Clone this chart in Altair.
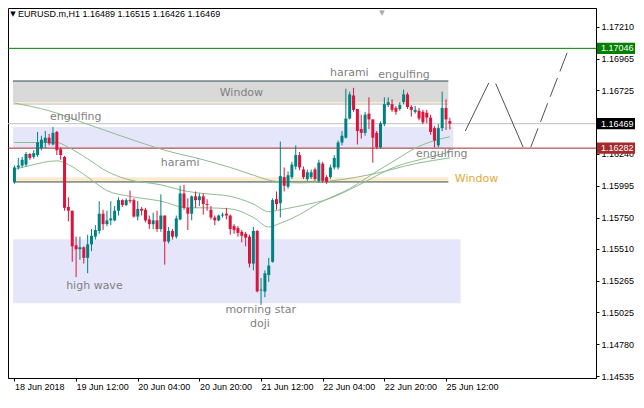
import altair as alt
import pandas as pd

# ---------------- data ----------------
opens = [1.16023, 1.16134, 1.16149, 1.16156, 1.16237, 1.16215, 1.16229, 1.16281, 1.16325, 1.16362,
         1.16310, 1.16406, 1.16274, 1.16215, 1.15832, 1.15803, 1.15538, 1.15508, 1.15523, 1.15442,
         1.15545, 1.15604, 1.15648, 1.15780, 1.15700, 1.15729, 1.15729, 1.15803, 1.15884, 1.15847,
         1.15884, 1.15884, 1.15758, 1.15817, 1.15810, 1.15736, 1.15700, 1.15729, 1.15663, 1.15766,
         1.15567, 1.15648, 1.15604, 1.15736, 1.15935, 1.15825, 1.15780, 1.15913, 1.15884, 1.15913,
         1.15854, 1.15810, 1.15751, 1.15729, 1.15766, 1.15780, 1.15766, 1.15685, 1.15670, 1.15641,
         1.15626, 1.15604, 1.15398, 1.15648, 1.15192, 1.15185, 1.15310, 1.15412, 1.15891, 1.15861,
         1.16060, 1.15987, 1.16060, 1.16141, 1.16229, 1.16119, 1.16046, 1.16060, 1.16119, 1.16031,
         1.16163, 1.16060, 1.16060, 1.16134, 1.16134, 1.16325, 1.16362, 1.16509, 1.16685, 1.16582,
         1.16428, 1.16399, 1.16546, 1.16502, 1.16399, 1.16288, 1.16465, 1.16612, 1.16619, 1.16590,
         1.16582, 1.16634, 1.16693, 1.16597, 1.16560, 1.16568, 1.16560, 1.16553, 1.16516, 1.16435,
         1.16303, 1.16435, 1.16590, 1.16489]
highs = [1.16149, 1.16207, 1.16215, 1.16252, 1.16244, 1.16266, 1.16406, 1.16377, 1.16413, 1.16391,
         1.16443, 1.16413, 1.16288, 1.16222, 1.15906, 1.15803, 1.15604, 1.15604, 1.15530, 1.15619,
         1.15663, 1.15692, 1.15876, 1.15810, 1.15803, 1.15876, 1.15839, 1.15906, 1.15891, 1.15898,
         1.15957, 1.15898, 1.15876, 1.15832, 1.15825, 1.15766, 1.15788, 1.15803, 1.15928, 1.15766,
         1.15678, 1.15663, 1.15766, 1.15994, 1.16001, 1.15898, 1.15920, 1.15950, 1.15935, 1.15935,
         1.15891, 1.15839, 1.15766, 1.15773, 1.15788, 1.15825, 1.15773, 1.15700, 1.15685, 1.15655,
         1.15641, 1.15619, 1.15678, 1.15655, 1.15287, 1.15346, 1.15442, 1.15898, 1.15950, 1.16332,
         1.16134, 1.16104, 1.16178, 1.16303, 1.16252, 1.16141, 1.16119, 1.16119, 1.16134, 1.16193,
         1.16178, 1.16075, 1.16156, 1.16229, 1.16340, 1.16413, 1.16737, 1.16715, 1.16744, 1.16582,
         1.16538, 1.16560, 1.16671, 1.16502, 1.16413, 1.16487, 1.16671, 1.16671, 1.16656, 1.16605,
         1.16634, 1.16730, 1.16708, 1.16612, 1.16605, 1.16590, 1.16575, 1.16575, 1.16538, 1.16450,
         1.16465, 1.16715, 1.16656, 1.16515]
lows = [1.16009, 1.16119, 1.16134, 1.16141, 1.16193, 1.16200, 1.16215, 1.16266, 1.16281, 1.16303,
        1.16303, 1.16229, 1.16193, 1.15803, 1.15722, 1.15412, 1.15295, 1.15427, 1.15398, 1.15324,
        1.15493, 1.15582, 1.15626, 1.15655, 1.15685, 1.15692, 1.15722, 1.15766, 1.15832, 1.15839,
        1.15861, 1.15751, 1.15729, 1.15766, 1.15714, 1.15663, 1.15663, 1.15641, 1.15641, 1.15390,
        1.15552, 1.15582, 1.15589, 1.15729, 1.15810, 1.15655, 1.15729, 1.15825, 1.15839, 1.15773,
        1.15803, 1.15736, 1.15692, 1.15722, 1.15751, 1.15736, 1.15619, 1.15626, 1.15604, 1.15560,
        1.15530, 1.15368, 1.15346, 1.15177, 1.15082, 1.15140, 1.15258, 1.15405, 1.15810, 1.15751,
        1.15950, 1.15972, 1.16046, 1.16119, 1.16112, 1.16046, 1.16031, 1.16046, 1.16031, 1.16016,
        1.16016, 1.16009, 1.16046, 1.16119, 1.16119, 1.16303, 1.16355, 1.16502, 1.16560, 1.16310,
        1.16355, 1.16377, 1.16428, 1.16171, 1.16274, 1.16281, 1.16450, 1.16597, 1.16560, 1.16538,
        1.16568, 1.16619, 1.16582, 1.16524, 1.16546, 1.16494, 1.16465, 1.16472, 1.16384, 1.16288,
        1.16288, 1.16413, 1.16421, 1.16426]
closes = [1.16134, 1.16149, 1.16193, 1.16237, 1.16207, 1.16244, 1.16325, 1.16347, 1.16362, 1.16318,
          1.16399, 1.16266, 1.16229, 1.15825, 1.15803, 1.15530, 1.15508, 1.15523, 1.15442, 1.15545,
          1.15611, 1.15655, 1.15780, 1.15700, 1.15729, 1.15744, 1.15803, 1.15884, 1.15847, 1.15884,
          1.15876, 1.15758, 1.15817, 1.15803, 1.15729, 1.15700, 1.15729, 1.15663, 1.15766, 1.15567,
          1.15648, 1.15604, 1.15744, 1.15935, 1.15825, 1.15780, 1.15913, 1.15884, 1.15913, 1.15854,
          1.15847, 1.15751, 1.15729, 1.15766, 1.15773, 1.15766, 1.15663, 1.15655, 1.15633, 1.15611,
          1.15596, 1.15398, 1.15648, 1.15185, 1.15199, 1.15324, 1.15383, 1.15884, 1.15854, 1.16068,
          1.15994, 1.16075, 1.16156, 1.16229, 1.16134, 1.16060, 1.16097, 1.16097, 1.16046, 1.16171,
          1.16031, 1.16023, 1.16134, 1.16207, 1.16325, 1.16377, 1.16509, 1.16693, 1.16575, 1.16413,
          1.16399, 1.16538, 1.16502, 1.16362, 1.16288, 1.16472, 1.16619, 1.16634, 1.16575, 1.16560,
          1.16612, 1.16693, 1.16597, 1.16575, 1.16575, 1.16509, 1.16479, 1.16516, 1.16406, 1.16340,
          1.16435, 1.16590, 1.16502, 1.16469]

ma_fast_bars = [0, 4, 11, 14, 19, 24, 30, 38, 45, 49, 56, 62, 66, 69, 74, 79, 87, 94, 99, 104, 109, 113]
ma_fast = [1.16119, 1.16149, 1.16185, 1.16156, 1.16060, 1.15957, 1.15913, 1.15876, 1.15825, 1.15825,
           1.15817, 1.15751, 1.15678, 1.15707, 1.15773, 1.15861, 1.15972, 1.16104, 1.16193, 1.16281,
           1.16340, 1.16369]
ma_mid_bars = [0, 11, 14, 19, 24, 29, 38, 45, 49, 56, 62, 66, 69, 74, 82, 89, 99, 107, 113]
ma_mid = [1.16325, 1.16325, 1.16288, 1.16200, 1.16104, 1.16046, 1.16001, 1.15950, 1.15935, 1.15913,
          1.15854, 1.15795, 1.15810, 1.15839, 1.15898, 1.15994, 1.16141, 1.16207, 1.16252]
ma_slow_bars = [0, 9, 19, 29, 39, 49, 56, 62, 67, 74, 84, 94, 104, 113]
ma_slow = [1.16627, 1.16568, 1.16465, 1.16362, 1.16266, 1.16193, 1.16134, 1.16075, 1.16031, 1.16016,
           1.16038, 1.16090, 1.16163, 1.16207]

x_label_bars = [0, 16, 32, 48, 64, 80, 96, 112]
x_labels = ["18 Jun 2018", "19 Jun 12:00", "20 Jun 04:00", "20 Jun 20:00",
            "21 Jun 12:00", "22 Jun 04:00", "22 Jun 20:00", "25 Jun 12:00"]
y_ticks = [1.17210, 1.16965, 1.16725, 1.16480, 1.16240, 1.15995, 1.15750,
           1.15510, 1.15265, 1.15025, 1.14780, 1.14535]

# zones (rectangles): right end bar, low price, high price, colour
zone_end = [113.9, 115.8, 112.6, 112.6, 112.6]
zone_low = [1.16282, 1.15094, 1.16612, 1.16625, 1.16023]
zone_high = [1.16443, 1.15584, 1.16796, 1.16636, 1.16060]
zone_color = ["#E6E6FA", "#E6E6FA", "#D9D9D9", "#FDEBD0", "#FDEBD0"]

level_prices = [1.17046, 1.16469, 1.16282]
level_texts = ["1.17046", "1.16469", "1.16282"]
level_colors = ["#008000", "#000000", "#A52A2A"]

window_lines = [1.16796, 1.16023]
window_end = 112.6

proj_bars = [117.0, 123.1, 124.9, 132.0, 134.0, 144.1]
proj_prices = [1.16413, 1.16781, 1.16776, 1.16290, 1.16290, 1.17063]
proj_seg = ["a", "a", "b", "b", "c", "c"]

ann_text = ["Window", "engulfing", "harami", "harami", "engulfing", "engulfing",
            "Window", "high wave", "morning star", "doji"]
ann_bar = [58.9, 15.9, 43.0, 86.9, 101.1, 110.9, 119.9, 20.75, 63.9, 63.7]
ann_price = [1.16708, 1.16524, 1.16171, 1.16859, 1.16840, 1.16237, 1.16046, 1.15228, 1.15045, 1.14935]
ann_color = ["#7f7f7f"] * 6 + ["#E8A838"] + ["#7f7f7f"] * 3

title_text = "EURUSD.m,H1  1.16489 1.16515 1.16426 1.16469"

X_MIN, X_MAX = -0.375, 149.625
Y_MIN, Y_MAX = 1.14522, 1.17355
W, H = 588, 370

# ---------------- tables ----------------
candles = pd.DataFrame({"bar": list(range(len(opens))), "open": opens, "high": highs,
                        "low": lows, "close": closes})
candles["dir"] = ["up" if c >= o else "down" for o, c in zip(opens, closes)]

ma = pd.DataFrame({
    "bar": ma_fast_bars + ma_mid_bars + ma_slow_bars,
    "p": ma_fast + ma_mid + ma_slow,
    "line": ["fast"] * len(ma_fast) + ["mid"] * len(ma_mid) + ["slow"] * len(ma_slow),
})
zones = pd.DataFrame({"x0": [X_MIN] * len(zone_end), "x1": zone_end, "lo": zone_low,
                      "hi": zone_high, "color": zone_color, "order": list(range(len(zone_end)))})
levels = pd.DataFrame({"p": level_prices, "t": level_texts, "color": level_colors})
wlines = pd.DataFrame({"x0": [X_MIN] * len(window_lines), "x1": [window_end] * len(window_lines),
                       "p": window_lines})
proj = pd.DataFrame({"bar": proj_bars, "p": proj_prices, "seg": proj_seg})
ann = pd.DataFrame({"t": ann_text, "bar": ann_bar, "p": ann_price, "color": ann_color})

label_expr = ("[" + ",".join(repr(s) for s in x_labels) + "][indexof(["
              + ",".join(str(v) for v in x_label_bars) + "], datum.value)]")

xs = alt.Scale(domain=[X_MIN, X_MAX], nice=False, zero=False)
ys = alt.Scale(domain=[Y_MIN, Y_MAX], nice=False, zero=False)

x_axis = alt.Axis(values=x_label_bars, labelExpr=label_expr, labelAlign="left", labelPadding=1,
                  tickSize=3, tickColor="black", domainColor="black", labelColor="black",
                  labelFont="Liberation Sans", labelFontSize=9, labelFlush=False,
                  labelOverlap=False, labelBound=False, grid=False, title=None)
y_axis = alt.Axis(orient="right", values=y_ticks, format=".5f", labelAlign="left",
                  labelBaseline="middle", labelPadding=2, tickSize=3, tickColor="black",
                  domainColor="black", labelColor="black", labelFont="Liberation Sans",
                  labelFontSize=9, labelOverlap=False, labelFlush=False, grid=False, title=None)


def X(field):
    return alt.X(field + ":Q", scale=xs, axis=x_axis)


def Y(field):
    return alt.Y(field + ":Q", scale=ys, axis=y_axis)


color_scale = alt.Scale(domain=["up", "down"], range=["#008080", "#DC143C"])

zone_layer = alt.Chart(zones).mark_rect().encode(
    x=X("x0"), x2="x1", y=Y("lo"), y2="hi", color=alt.Color("color:N", scale=None),
    order="order:Q")

gray_line = alt.Chart(levels).transform_filter("datum.t == '1.16469'").mark_rule(
    strokeWidth=1, color="#C0C0C0").encode(y=Y("p"))
other_lines = alt.Chart(levels).transform_filter("datum.t != '1.16469'").mark_rule(
    strokeWidth=1).encode(y=Y("p"), color=alt.Color("color:N", scale=None))

win_lines = alt.Chart(wlines).mark_rule(strokeWidth=1, color="#2F4F4F").encode(
    x=X("x0"), x2="x1", y=Y("p"))

ma_layer = alt.Chart(ma).mark_line(strokeWidth=1, color="#8FBC8F", interpolate="monotone").encode(
    x=X("bar"), y=Y("p"), detail="line:N")

wicks = alt.Chart(candles).mark_rule(strokeWidth=1).encode(
    x=X("bar"), y=Y("low"), y2="high",
    color=alt.Color("dir:N", scale=color_scale, legend=None))
bodies = alt.Chart(candles).mark_bar(size=3).encode(
    x=X("bar"), y=Y("open"), y2="close",
    color=alt.Color("dir:N", scale=color_scale, legend=None))

proj_solid = alt.Chart(proj).transform_filter("datum.seg != 'c'").mark_line(
    strokeWidth=1, color="#505050").encode(x=X("bar"), y=Y("p"), detail="seg:N")
proj_dash = alt.Chart(proj).transform_filter("datum.seg == 'c'").mark_line(
    strokeWidth=1, color="#505050", strokeDash=[20, 7]).encode(x=X("bar"), y=Y("p"))

ann_layer = alt.Chart(ann).mark_text(font="DejaVu Sans", fontSize=11, align="center",
                                      baseline="middle").encode(
    x=X("bar"), y=Y("p"), text="t:N", color=alt.Color("color:N", scale=None))

boxes = alt.Chart(levels).transform_calculate(
    lo="datum.p - 0.00043", hi="datum.p + 0.00043").mark_rect().encode(
    x=alt.value(W + 1), x2=alt.value(W + 39), y=Y("lo"), y2="hi",
    color=alt.Color("color:N", scale=None))
box_text = alt.Chart(levels).mark_text(font="Liberation Sans", fontSize=9, align="left",
                                       baseline="middle", color="white").encode(
    x=alt.value(W + 5), y=Y("p"), text="t:N")

title_df = pd.DataFrame({"t": [title_text]})
title_layer = alt.Chart(title_df).mark_text(font="Liberation Sans", fontSize=9, align="left",
                                            baseline="middle", color="black").encode(
    x=alt.value(10), y=alt.value(6), text="t:N")
tri_layer = alt.Chart(pd.DataFrame({"t": ["\u25BC"]})).mark_text(
    font="DejaVu Sans", fontSize=7, align="center", baseline="middle", color="black").encode(
    x=alt.value(5), y=alt.value(6), text="t:N")
shift_layer = alt.Chart(pd.DataFrame({"t": ["\u25BC"]})).mark_text(
    font="DejaVu Sans", fontSize=7, align="center", baseline="top", color="#A9A9A9").encode(
    x=alt.value(374), y=alt.value(1), text="t:N")

chart = alt.layer(
    zone_layer, gray_line, other_lines, win_lines, ma_layer, wicks, bodies,
    proj_solid, proj_dash, ann_layer, boxes, box_text, title_layer, tri_layer, shift_layer
).properties(
    width=W, height=H,
    autosize=alt.AutoSizeParams(type="none"),
    padding={"left": 0, "top": 0, "right": 40, "bottom": 14},
    background="white",
).configure_view(stroke="black", strokeWidth=1)

chart.save("out.html", embed_options={"renderer": "svg", "actions": False})
